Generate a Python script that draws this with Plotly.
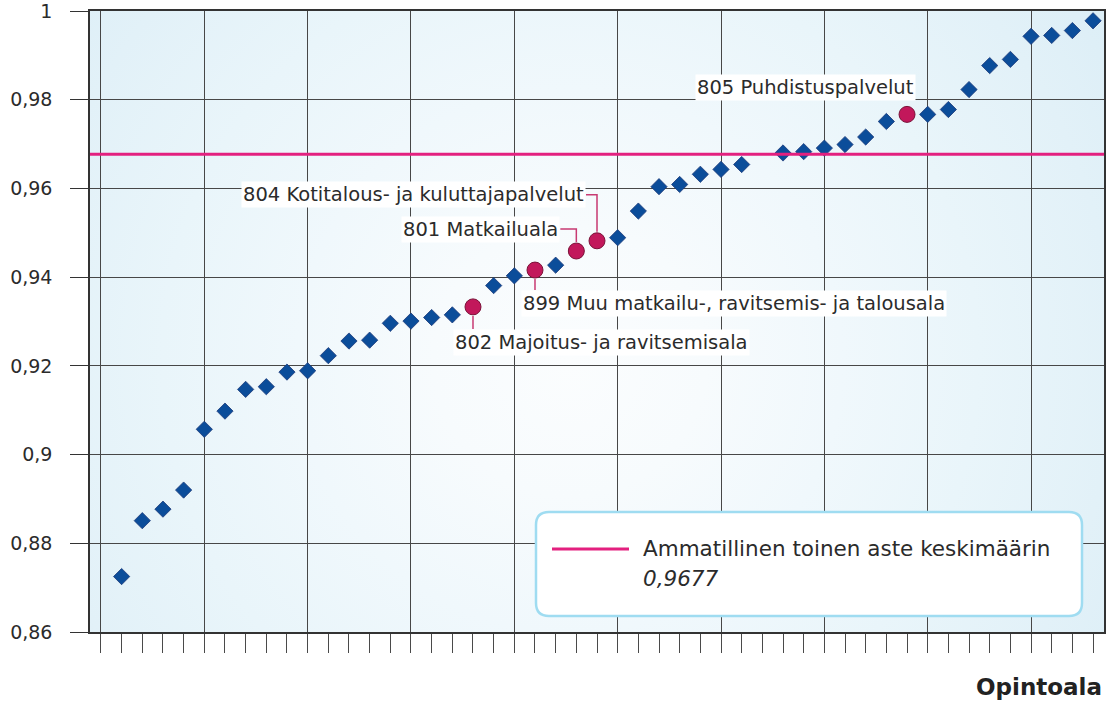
import base64
import plotly.graph_objects as go

# ---------------- data ----------------
category_index = list(range(49))
ratio = [None, 0.8725, 0.8851, 0.8877, 0.8920, 0.9057, 0.9098, 0.9147, 0.9153, 0.9186,
         0.9189, 0.9223, 0.9256, 0.9258, 0.9296, 0.9301, 0.9309, 0.9315, 0.9333, 0.9381,
         0.9403, 0.9416, 0.9427, 0.9459, 0.9482, 0.9489, 0.9549, 0.9604, 0.9609, 0.9632,
         0.9643, 0.9654, None, 0.9680, 0.9683, 0.9691, 0.9699, 0.9716, 0.9751, 0.9767,
         0.9767, 0.9778, 0.9823, 0.9877, 0.9891, 0.9943, 0.9945, 0.9956, 0.9978]
highlight_index = [18, 21, 23, 24, 39]
highlight_label = ["802 Majoitus- ja ravitsemisala",
                   "899 Muu matkailu-, ravitsemis- ja talousala",
                   "801 Matkailuala",
                   "804 Kotitalous- ja kuluttajapalvelut",
                   "805 Puhdistuspalvelut"]
mean_value = 0.9677
mean_label = "Ammatillinen toinen aste keskimäärin"
mean_text = "0,9677"
y_tick_values = [0.86, 0.88, 0.90, 0.92, 0.94, 0.96, 0.98, 1.0]
y_tick_labels = ["0,86", "0,88", "0,9", "0,92", "0,94", "0,96", "0,98", "1"]
x_title = "Opintoala"

# ---------------- geometry / style ----------------
W, H = 1107, 704
ML, MR, MT, MB = 90, 3, 11, 72
PW, PH = W - ML - MR, H - MT - MB
XR = [-0.53, 48.53]
YR = [0.86, 1.00001]
px_x = PW / (XR[1] - XR[0])
px_y = PH / (YR[1] - YR[0])

FONT = "DejaVu Sans"
FS = 19
FS_LAB = 19.5
FS_LEG = 21.5
TXT = "#2b2b2b"
BLUE = "#0b4d9a"
CRIM = "#c2185b"
PINK = "#e3207f"
LEAD = "#c83a72"

normal_x = [i for i, v in zip(category_index, ratio) if v is not None and i not in highlight_index]
normal_y = [ratio[i] for i in normal_x]
hl_y = [ratio[i] for i in highlight_index]

fig = go.Figure()
fig.add_trace(go.Scatter(x=normal_x, y=normal_y, mode="markers",
                         marker=dict(symbol="diamond", size=12.5, color=BLUE,
                                     line=dict(color="#1d3a78", width=0.8)),
                         showlegend=False, hoverinfo="skip"))
fig.add_trace(go.Scatter(x=highlight_index, y=hl_y, mode="markers",
                         marker=dict(symbol="circle", size=16, color=CRIM,
                                     line=dict(color="#7a1238", width=1)),
                         showlegend=False, hoverinfo="skip"))

# background radial gradient
svg = (
    "<svg xmlns='http://www.w3.org/2000/svg' width='1014' height='622' viewBox='0 0 1014 622' preserveAspectRatio='none'>"
    "<defs><radialGradient id='g' cx='480' cy='350' r='680' gradientUnits='userSpaceOnUse'>"
    "<stop offset='0' stop-color='#fbfdfe'/>"
    "<stop offset='0.2' stop-color='#f7fbfd'/>"
    "<stop offset='0.4' stop-color='#f0f8fc'/>"
    "<stop offset='0.6' stop-color='#e9f5fa'/>"
    "<stop offset='0.8' stop-color='#e2f1f8'/>"
    "<stop offset='1' stop-color='#daedf6'/>"
    "</radialGradient></defs>"
    "<rect width='1014' height='622' fill='url(#g)'/></svg>"
)
src = "data:image/svg+xml;base64," + base64.b64encode(svg.encode()).decode()
fig.add_layout_image(dict(source=src, xref="paper", yref="paper", x=0, y=1,
                          sizex=1, sizey=1, xanchor="left", yanchor="top",
                          sizing="stretch", layer="below"))

shapes = []
# mean line
shapes.append(dict(type="line", xref="paper", yref="y", x0=0, x1=1, y0=mean_value, y1=mean_value,
                   line=dict(color=PINK, width=3), layer="above"))

def dx(p):
    return p / px_x

def dy(p):
    return p / px_y

annotations = []
# label configs (pixel offsets from the marker)
cfg = {
    18: dict(xanchor="left", yanchor="top", xs=-20, ys=-22, lead=[(0, -9), (0, -22)]),
    21: dict(xanchor="left", yanchor="top", xs=-14, ys=-20, lead=[(0, -9), (0, -20)]),
    23: dict(xanchor="right", yanchor="middle", xs=-16, ys=22, lead=[(0, 9), (0, 22), (-16, 22)]),
    24: dict(xanchor="right", yanchor="middle", xs=-11, ys=46, lead=[(0, 9), (0, 46), (-11, 46)]),
    39: dict(xanchor="left", yanchor="bottom", xs=-212, ys=13, lead=None),
}
for idx, lab in zip(highlight_index, highlight_label):
    c = cfg[idx]
    v = ratio[idx]
    annotations.append(dict(x=idx, y=v, xref="x", yref="y", text=lab, showarrow=False,
                            xanchor=c["xanchor"], yanchor=c["yanchor"],
                            xshift=c["xs"], yshift=c["ys"], bgcolor="white", borderpad=1,
                            font=dict(family=FONT, size=FS_LAB, color=TXT)))
    if c["lead"]:
        pts = [(idx + dx(a), v + dy(b)) for a, b in c["lead"]]
        path = "M " + " L ".join(f"{x:.4f},{y:.5f}" for x, y in pts)
        shapes.append(dict(type="path", xref="x", yref="y", path=path,
                           line=dict(color=LEAD, width=1.5), layer="above"))

# legend box (rounded rectangle) in paper coords
def ppx(px):
    return (px - ML) / PW

def ppy(py):
    return (MT + PH - py) / PH

bx0, bx1, by0, by1, r = 536, 1082, 512, 616, 13
rx, ry = r / PW, r / PH
X0, X1, Y0, Y1 = ppx(bx0), ppx(bx1), ppy(by1), ppy(by0)
rpath = (f"M {X0+rx},{Y1} L {X1-rx},{Y1} Q {X1},{Y1} {X1},{Y1-ry} "
         f"L {X1},{Y0+ry} Q {X1},{Y0} {X1-rx},{Y0} L {X0+rx},{Y0} "
         f"Q {X0},{Y0} {X0},{Y0+ry} L {X0},{Y1-ry} Q {X0},{Y1} {X0+rx},{Y1} Z")
shapes.append(dict(type="path", xref="paper", yref="paper", path=rpath,
                   fillcolor="white", line=dict(color="#9fdcf1", width=2.5), layer="above"))
shapes.append(dict(type="line", xref="paper", yref="paper", x0=ppx(552), x1=ppx(629),
                   y0=ppy(549), y1=ppy(549), line=dict(color=PINK, width=3), layer="above"))
annotations.append(dict(xref="paper", yref="paper", x=ppx(641), y=ppy(548), text=mean_label,
                        showarrow=False, xanchor="left", yanchor="middle",
                        font=dict(family=FONT, size=FS_LEG, color=TXT)))
annotations.append(dict(xref="paper", yref="paper", x=ppx(641), y=ppy(578), text="<i>" + mean_text + "</i>",
                        showarrow=False, xanchor="left", yanchor="middle",
                        font=dict(family=FONT, size=FS_LEG, color=TXT)))
# axis title
annotations.append(dict(xref="paper", yref="paper", x=1, y=0, yshift=-55, text="<b>" + x_title + "</b>",
                        showarrow=False, xanchor="right", yanchor="middle",
                        font=dict(family=FONT, size=23, color="#222")))

fig.update_layout(
    width=W, height=H,
    margin=dict(l=ML, r=MR, t=MT, b=MB, pad=0, autoexpand=False),
    paper_bgcolor="white", plot_bgcolor="rgba(0,0,0,0)",
    shapes=shapes, annotations=annotations,
    font=dict(family=FONT, size=FS, color=TXT),
    showlegend=False,
)
fig.update_xaxes(range=XR, tick0=0, dtick=5, showgrid=True, gridcolor="#474747", gridwidth=1,
                 ticks="outside", ticklen=19, tickcolor="#4a4a4a", showticklabels=False,
                 minor=dict(tick0=0, dtick=1, ticks="outside", ticklen=19, tickcolor="#4a4a4a", showgrid=False),
                 showline=True, linecolor="#333", linewidth=1.5, mirror=True, zeroline=False,
                 automargin=False)
fig.update_yaxes(range=YR, tickvals=y_tick_values, ticktext=y_tick_labels,
                 showgrid=True, gridcolor="#474747", gridwidth=1,
                 ticks="outside", ticklen=18, tickcolor="#333", ticklabelstandoff=14,
                 ticklabeloverflow="allow", automargin=False,
                 showline=True, linecolor="#333", linewidth=1.5, mirror=True, zeroline=False,
                 tickfont=dict(family=FONT, size=FS, color=TXT))

fig.write_html("out.html", config={"displayModeBar": False},
               post_script="document.body.style.margin='0';")
